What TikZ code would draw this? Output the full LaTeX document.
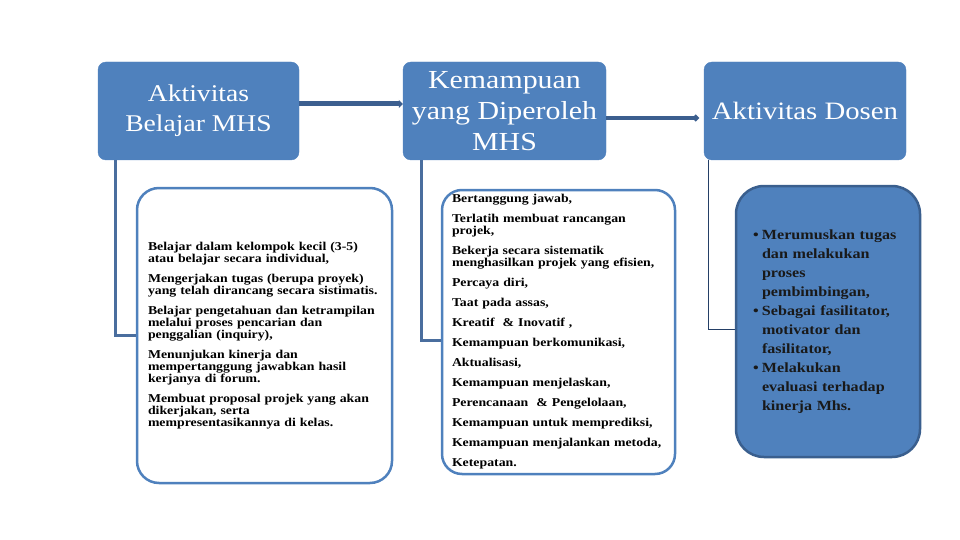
\documentclass[tikz,border=0pt]{standalone}
\usepackage{fontspec}
\setmainfont{Liberation Serif}
\newfontfamily\bodyfont[FakeStretch=1.15]{Liberation Serif}
\usepackage{tikz}
\usetikzlibrary{arrows.meta,positioning,calc}
\usepackage{xcolor}
\definecolor{boxBlue}{HTML}{4F81BD}
\definecolor{boxEdge}{HTML}{3A5F8E}
\definecolor{linkBlue}{HTML}{3C5F8F}
\definecolor{elbowBlue}{HTML}{4A6E9E}
\definecolor{thinLink}{HTML}{243F66}
\newcommand{\bul}{\makebox[9pt][l]{\textbullet}}
\newcommand{\hang}{\hspace*{9pt}}

\begin{document}
\begin{tikzpicture}[x=1pt,y=-1pt,
  headbox/.style={draw=boxBlue,fill=boxBlue,rounded corners=8pt,minimum width=201pt,
    minimum height=98pt,align=center,text=white,inner sep=2pt},
  listbox/.style={draw=boxBlue,line width=2.5pt,fill=white,rounded corners=22pt,align=left,
    inner ysep=4pt},
  dosenbox/.style={draw=boxEdge,line width=2.5pt,fill=boxBlue,rounded corners=28pt,
    text width=150pt,inner xsep=17pt,minimum height=271pt,align=left,
    font={\bodyfont\bfseries\fontsize{14}{19}\selectfont},text=black!90},
  elbow/.style={elbowBlue,line width=3pt}]
  \useasboundingbox (0,0) rectangle (960,540);

  % top row
  \node[headbox,font={\bodyfont\fontsize{24}{30}\selectfont}] (aktMhs) at (198.5,111)
    {Aktivitas\\Belajar MHS};
  \node[headbox,minimum width=203pt,font={\bodyfont\fontsize{26}{31}\selectfont}] (kemMhs) at (504.5,111)
    {Kemampuan\\yang Diperoleh\\MHS};
  \node[headbox,minimum width=202pt,font={\bodyfont\fontsize{25}{30}\selectfont}] (aktDosen) at (805,111)
    {Aktivitas Dosen};

  % lower row
  \node[listbox,text width=233pt,inner xsep=11pt,minimum height=295pt,
    font={\bodyfont\bfseries\fontsize{12}{10}\selectfont}] (belajar) at (264.5,335.5)
    {Belajar dalam kelompok kecil (3-5)\\atau belajar secara individual,\\[8pt]
     Mengerjakan tugas (berupa proyek)\\yang telah dirancang secara sistimatis.\\[8pt]
     Belajar pengetahuan dan ketrampilan\\melalui proses pencarian dan\\penggalian (inquiry),\\[8pt]
     Menunjukan kinerja dan\\mempertanggung jawabkan hasil\\kerjanya di forum.\\[8pt]
     Membuat proposal projek yang akan\\dikerjakan, serta\\mempresentasikannya di kelas.};
  \node[listbox,rounded corners=20pt,text width=213pt,inner xsep=10pt,minimum height=284pt,
    font={\bodyfont\bfseries\fontsize{12}{12}\selectfont}] (kemampuan) at (558.5,332)
    {Bertanggung jawab,\\[8pt]
     Terlatih membuat rancangan\\projek,\\[8pt]
     Bekerja secara sistematik\\menghasilkan projek yang efisien,\\[8pt]
     Percaya diri,\\[8pt]
     Taat pada assas,\\[8pt]
     Kreatif~~\& Inovatif ,\\[8pt]
     Kemampuan berkomunikasi,\\[8pt]
     Aktualisasi,\\[8pt]
     Kemampuan menjelaskan,\\[8pt]
     Perencanaan~~\& Pengelolaan,\\[8pt]
     Kemampuan untuk memprediksi,\\[8pt]
     Kemampuan menjalankan metoda,\\[8pt]
     Ketepatan.};
  \node[dosenbox] (dosen) at (828,321.5)
    {\bul Merumuskan tugas\\\hang dan melakukan\\\hang proses\\\hang pembimbingan,\\
     \bul Sebagai fasilitator,\\\hang motivator dan\\\hang fasilitator,\\
     \bul Melakukan\\\hang evaluasi terhadap\\\hang kinerja Mhs.};

  % connectors
  \draw[linkBlue,line width=5pt,-{Triangle[length=4pt,width=8pt]}]
    ([yshift=7pt]aktMhs.east) -- ([yshift=7pt]kemMhs.west);
  \draw[linkBlue,line width=4.5pt,-{Circle[length=6pt]}]
    ([yshift=-7pt]kemMhs.east) -- ([xshift=-5pt,yshift=-7pt]aktDosen.west);
  \draw[elbow] ([xshift=18pt]aktMhs.south west) |- (belajar.west);
  \draw[elbow] ([xshift=19pt]kemMhs.south west) |- ([yshift=-8pt]kemampuan.west);
  \draw[thinLink,line width=1pt] ([xshift=5pt]aktDosen.south west) |- ([yshift=-8pt]dosen.west);
\end{tikzpicture}
\end{document}
